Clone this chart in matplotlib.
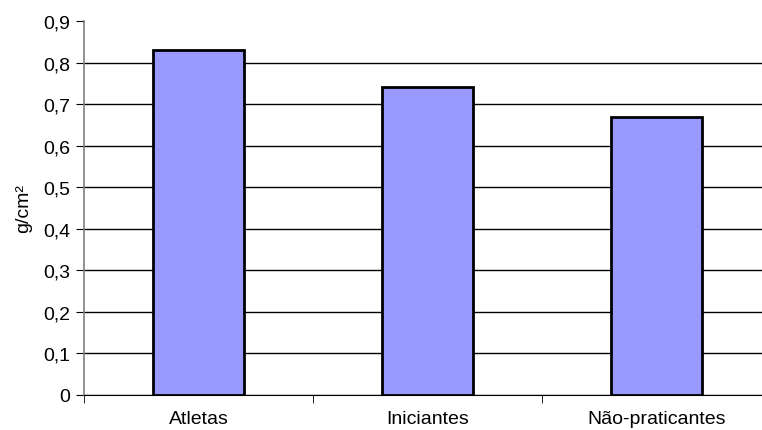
import numpy as np
import matplotlib
matplotlib.use('Agg')
import matplotlib.pyplot as plt

categorias = ['Atletas', 'Iniciantes', 'Não-praticantes']
valores = [0.83, 0.74, 0.67]
yticks = [0, 0.1, 0.2, 0.3, 0.4, 0.5, 0.6, 0.7, 0.8, 0.9]

plt.rcParams['font.family'] = ['Liberation Sans', 'DejaVu Sans']

fig = plt.figure(figsize=(7.62, 4.31), dpi=100)
ax = fig.add_axes([84 / 762, 35 / 431, 687 / 762, 374 / 431])

x = np.arange(len(categorias))
ax.bar(x, valores, width=0.4, color='#9999ff', edgecolor='black', linewidth=2, zorder=3)

ax.set_xlim(-0.5, len(categorias) - 0.5)
ax.set_ylim(0, 0.9)
ax.set_yticks(yticks)
ax.set_yticklabels([('%.1f' % v).replace('.', ',') if v else '0' for v in yticks])
ax.yaxis.grid(True, color='black', linewidth=1, zorder=0)
ax.set_axisbelow(True)
ax.get_ygridlines()[-1].set_visible(False)  # sem linha no topo

# categorias sem ticks, ticks nos limites
ax.set_xticks(x)
ax.set_xticklabels(categorias)
ax.tick_params(axis='x', length=0, labelsize=14, pad=11)
ax.set_xticks(np.arange(len(categorias) + 1) - 0.5, minor=True)
ax.tick_params(axis='x', which='minor', length=6, color='black', direction='out')
ax.tick_params(axis='y', length=6, color='black', labelsize=14, pad=4)

ax.set_ylabel('g/cm²', fontsize=14, labelpad=8)

for s in ['top', 'right']:
    ax.spines[s].set_visible(False)
ax.spines['left'].set_color('#808080')
ax.spines['left'].set_linewidth(1.2)
ax.spines['bottom'].set_color('black')

fig.savefig('out.png', dpi=100)
